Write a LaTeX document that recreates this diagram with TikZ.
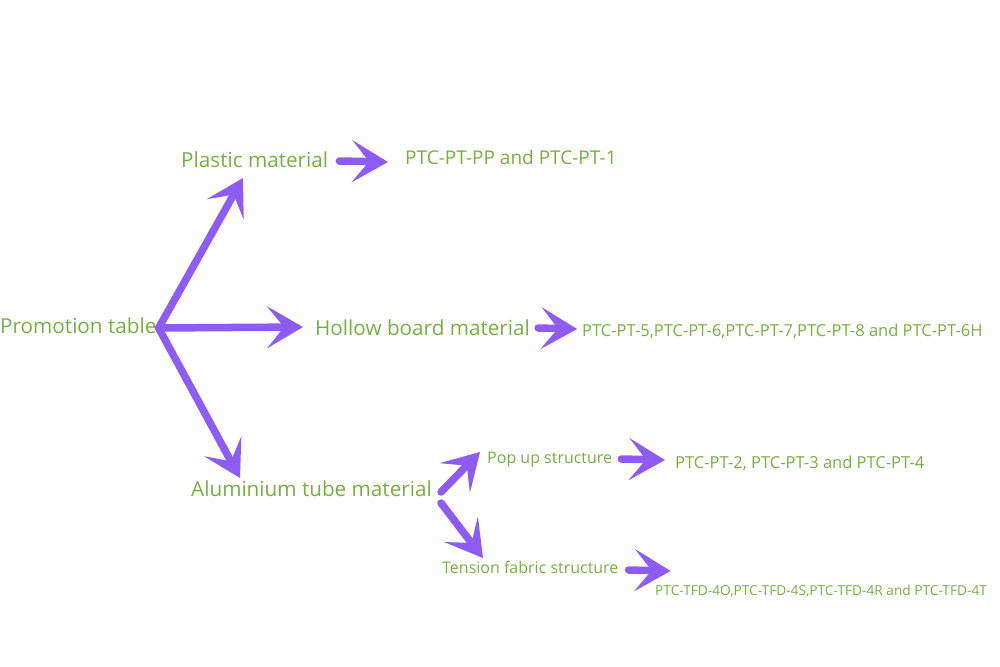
\documentclass[tikz,border=0pt]{standalone}
\usepackage{fontspec}
\setmainfont{Open Sans}
\usepackage{tikz}
\usetikzlibrary{
  arrows.meta,
  calc,
  positioning
}
\definecolor{leafgreen}{RGB}{118,176,64}
\definecolor{arrowpurple}{RGB}{140,92,245}
\tikzset{
  label/.style={anchor=base west, inner sep=0pt, text=leafgreen},
  big/.style={label, font=\fontsize{20.7}{24}\selectfont},
  mid/.style={label, font=\fontsize{19}{22}\selectfont},
  code/.style={label, font=\fontsize{16.5}{19}\selectfont},
  small/.style={label, font=\fontsize{16}{19}\selectfont},
  tiny/.style={label, font=\fontsize{13.7}{16}\selectfont},
  fatarrow/.style={draw=arrowpurple, line width=7.5pt, line cap=round,
    -{Stealth[length=36pt, width=42pt, inset=17pt, fill=arrowpurple]}}
}

\begin{document}
\begin{tikzpicture}[x=1pt, y=-1pt]
	\useasboundingbox (0,0) rectangle (1000,666);
	% first level
	\node[big] (promo) at (0,333) {Promotion table};
	\node[big] (plastic) at (181,167) {Plastic material};
	\node[big] (hollow) at (315,335) {Hollow board material};
	\node[big] (alu) at (191,496) {Aluminium tube material};
	% second level
	\node[mid] (ptcA) at (405,164) {PTC-PT-PP and PTC-PT-1};
	\node[code] (ptcB) at (582,336) {PTC-PT-5,PTC-PT-6,PTC-PT-7,PTC-PT-8 and PTC-PT-6H};
	\node[small] (popup) at (487,463) {Pop up structure};
	\node[small] (tension) at (442,573) {Tension fabric structure};
	% third level
	\node[code] (ptcC) at (675,468) {PTC-PT-2, PTC-PT-3 and PTC-PT-4};
	\node[tiny] (ptcD) at (655,595) {PTC-TFD-4O,PTC-TFD-4S,PTC-TFD-4R and PTC-TFD-4T};
	% arrows
	\coordinate (fork) at ([xshift=2pt, yshift=5pt]promo.base east);
	\draw[fatarrow] (fork) -- ([xshift=62pt, yshift=-11pt]plastic.base west);
	\draw[fatarrow] (fork) -- ([xshift=-12pt, yshift=8pt]hollow.base west);
	\draw[fatarrow] (fork) -- ([xshift=49pt, yshift=18pt]alu.base west);
	\draw[fatarrow] ([xshift=11pt, yshift=6pt]plastic.base east) -- ([xshift=-17pt, yshift=2pt]ptcA.base west);
	\draw[fatarrow] ([xshift=8pt, yshift=7pt]hollow.base east) -- ([xshift=-5pt, yshift=7pt]ptcB.base west);
	\draw[fatarrow] ([xshift=9pt, yshift=4pt]alu.base east) -- ([xshift=-7pt, yshift=11pt]popup.base west);
	\draw[fatarrow] ([xshift=9pt, yshift=-7pt]alu.base east) -- ([xshift=41pt, yshift=15pt]tension.base west);
	\draw[fatarrow] ([xshift=9pt, yshift=4pt]popup.base east) -- ([xshift=-10pt, yshift=8pt]ptcC.base west);
	\draw[fatarrow] ([xshift=10pt, yshift=3pt]tension.base east) -- ([xshift=52pt, yshift=2pt]tension.base east);
\end{tikzpicture}
\end{document}
